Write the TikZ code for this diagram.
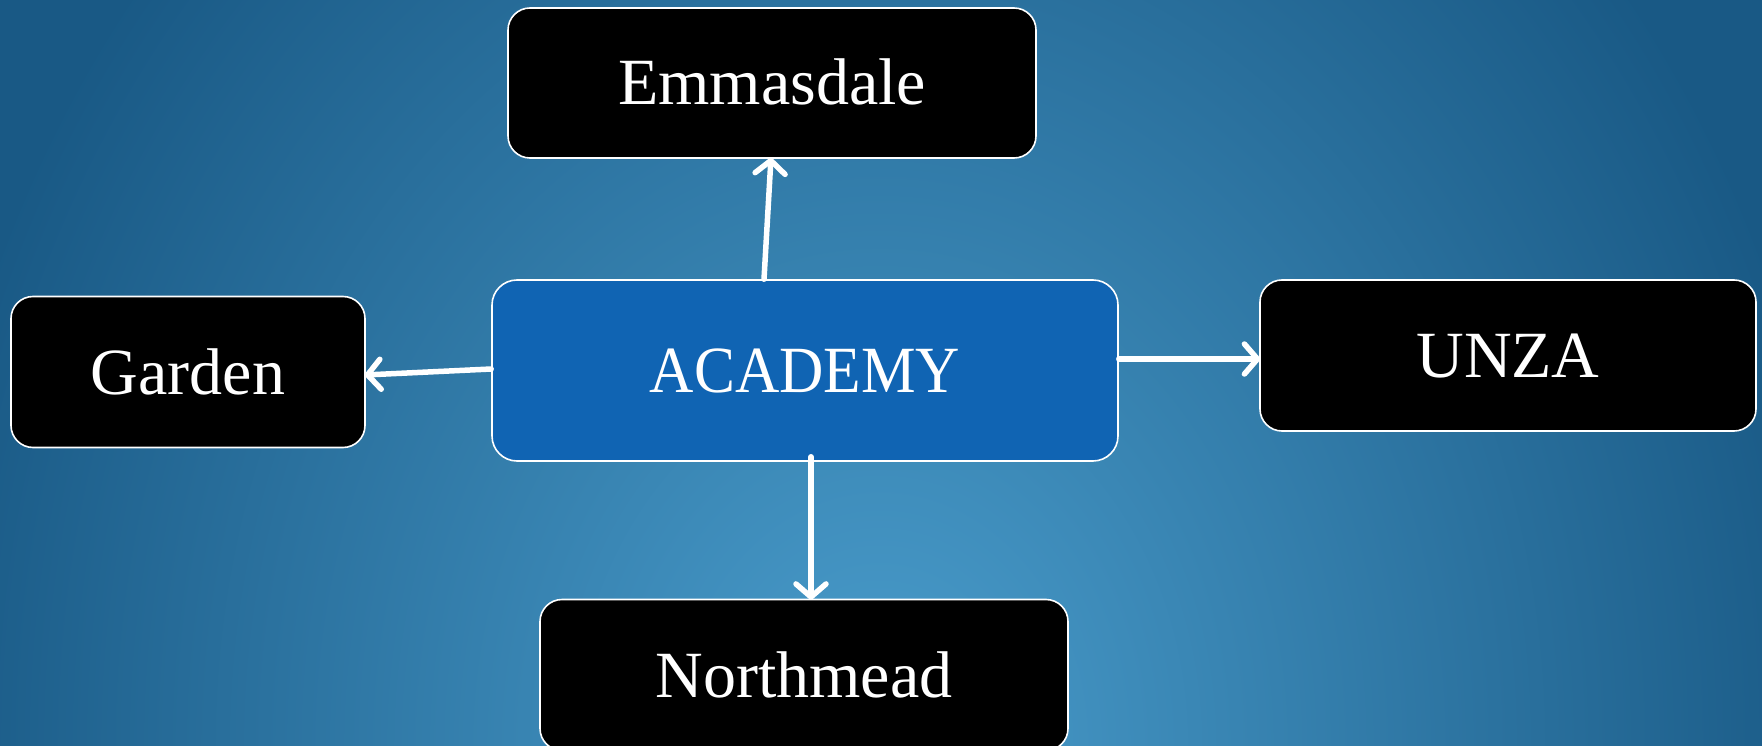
\documentclass[tikz,border=0pt]{standalone}
\usepackage{fontspec}
\setmainfont{Liberation Serif}
\usetikzlibrary{arrows.meta}
\definecolor{bglight}{HTML}{4A9DCC}
\definecolor{bgdark}{HTML}{195985}
\definecolor{acadblue}{HTML}{1064B3}
\pgfdeclareradialshading{bgshade}{\pgfpoint{0bp}{0bp}}{color(0bp)=(bglight); color(27bp)=(bgdark); color(50bp)=(bgdark)}
\tikzset{
  box/.style={draw=white, line width=1.6pt, rounded corners=22pt, fill=black, text=white,
    font=\fontsize{66}{70}\selectfont, text height=44pt, text depth=0pt, inner sep=0pt, align=center},
  link/.style={draw=white, line width=5.5pt, line cap=round,
    -{Straight Barb[length=13pt,width=30pt,line cap=round,line join=round]}}
}
\begin{document}
\begin{tikzpicture}[x=1pt,y=-1pt]
\useasboundingbox (0,0) rectangle (1762,746);
\begin{scope}
\clip (0,0) rectangle (1762,746);
\shade[shading=bgshade] (-20,-354) rectangle (1780,1846);
\end{scope}
\node[box, minimum width=528pt, minimum height=150pt] (emm) at (772,83) {Emmasdale};
\node[box, minimum width=354pt, minimum height=151pt] (gard) at (188,372) {Garden};
\node[box, fill=acadblue, rounded corners=25pt, minimum width=626pt, minimum height=181pt] (acad) at (805,370.5) {\scalebox{0.93}[1]{ACADEMY}};
\node[box, minimum width=496pt, minimum height=151pt] (unza) at (1508,355.5) {UNZA};
\node[box, minimum width=528pt, minimum height=151pt] (nmd) at (804,675) {Northmead};
\draw[link] ([xshift=-41pt]acad.north) -- ([xshift=-1pt,yshift=1pt]emm.south);
\draw[link] ([yshift=1.5pt]acad.west) -- ([xshift=-1pt,yshift=-3pt]gard.east);
\draw[link] ([yshift=11.5pt]acad.east) -- ([xshift=1pt,yshift=-3.5pt]unza.west);
\draw[link] ([xshift=6pt,yshift=5pt]acad.south) -- ([xshift=7pt,yshift=-1pt]nmd.north);
\end{tikzpicture}
\end{document}
